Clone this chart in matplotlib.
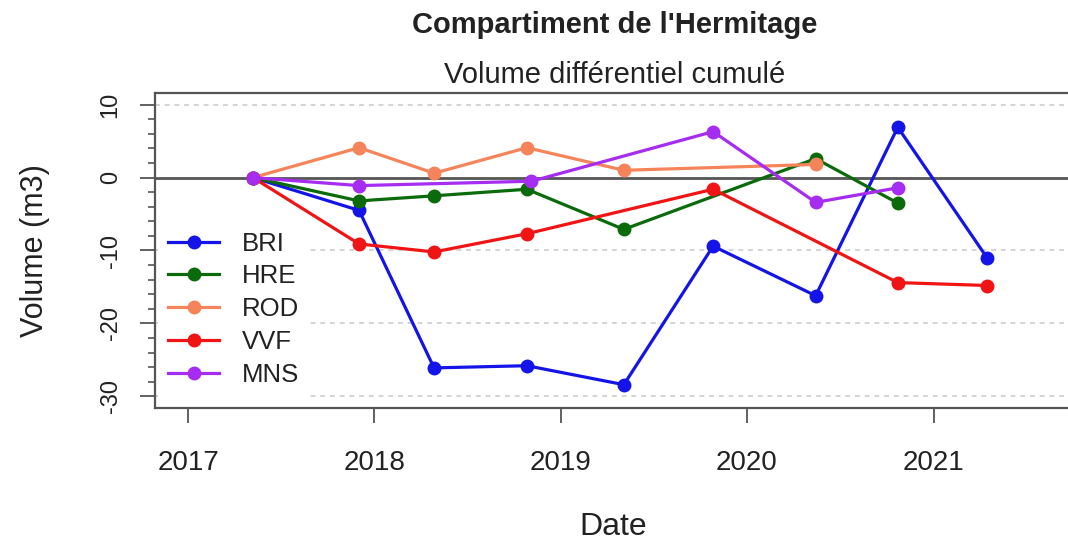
#!/usr/bin/env python3
# coding: utf-8

"""Cumulative differential volume per site, Hermitage compartment"""

import pandas as pd
import matplotlib
matplotlib.use("Agg")
import matplotlib.pyplot as plt
from matplotlib.ticker import MultipleLocator

plt.rcParams["font.family"] = ["Liberation Sans", "DejaVu Sans"]
plt.rcParams["axes.unicode_minus"] = False

# Survey dates and cumulative volumes (m3) for each site
bri_dates = ["2017-05-08", "2017-12-02", "2018-04-28", "2018-10-27", "2019-05-05",
             "2019-10-27", "2020-05-15", "2020-10-23", "2021-04-16"]
bri_vol = [0, -4.5, -26.1, -25.8, -28.4, -9.4, -16.2, 6.9, -11.0]

hre_dates = ["2017-05-08", "2017-12-02", "2018-04-28", "2018-10-27", "2019-05-05",
             "2020-05-15", "2020-10-23"]
hre_vol = [0, -3.2, -2.5, -1.6, -7.1, 2.6, -3.5]

rod_dates = ["2017-05-08", "2017-12-02", "2018-04-28", "2018-10-27", "2019-05-05",
             "2020-05-15"]
rod_vol = [0, 4.1, 0.6, 4.1, 1.0, 1.8]

vvf_dates = ["2017-05-08", "2017-12-02", "2018-04-28", "2018-10-27", "2019-10-27",
             "2020-10-23", "2021-04-16"]
vvf_vol = [0, -9.1, -10.2, -7.7, -1.6, -14.4, -14.8]

mns_dates = ["2017-05-08", "2017-12-02", "2018-11-05", "2019-10-27", "2020-05-15",
             "2020-10-23"]
mns_vol = [0, -1.1, -0.5, 6.3, -3.4, -1.4]

sites = ["BRI", "HRE", "ROD", "VVF", "MNS"]
colors = ["#1414e8", "#0b6b0b", "#f5845a", "#f01414", "#a52cf0"]
series = [(bri_dates, bri_vol), (hre_dates, hre_vol), (rod_dates, rod_vol),
          (vvf_dates, vvf_vol), (mns_dates, mns_vol)]

years = [2017, 2018, 2019, 2020, 2021]
grid_levels = [10, -10, -20, -30]

axis_grey = "#555555"
text_col = "#222222"

fig = plt.figure(figsize=(10.68, 5.5), dpi=100)
ax = fig.add_axes([155 / 1068, 1 - 408 / 550, (1084 - 155) / 1068, 315 / 550])

for y in grid_levels:
    ax.axhline(y, color="#d4d4d4", lw=1.4, ls=(0, (2.5, 2.5)), zorder=1)
ax.axhline(0, color=axis_grey, lw=2, zorder=1)

for name, col, (d, v) in zip(sites, colors, series):
    ax.plot(pd.to_datetime(d), v, "-o", color=col, lw=2.3, ms=9,
            label=name, zorder=3)

ax.set_xlim(pd.Timestamp("2016-10-28"), pd.Timestamp("2021-10-23"))
ax.set_ylim(-31.6, 11.6)

ax.set_xticks(pd.to_datetime([f"{y}-01-01" for y in years]))
ax.set_xticklabels([str(y) for y in years])
ax.set_yticks([-30, -20, -10, 0, 10])
ax.yaxis.set_minor_locator(MultipleLocator(2))

for s in ax.spines.values():
    s.set_color(axis_grey)
    s.set_linewidth(1.6)

ax.tick_params(axis="x", direction="out", length=11, width=1.3, color=axis_grey,
               pad=19, labelsize=20, labelcolor=text_col)
ax.tick_params(axis="y", which="major", direction="out", length=11, width=1.3,
               color=axis_grey, pad=13, labelsize=17, labelcolor=text_col,
               labelrotation=90)
ax.tick_params(axis="y", which="minor", direction="out", length=5, width=1.2,
               color=axis_grey)
plt.setp(ax.get_yticklabels(), va="center")

ax.set_xlabel("Date", fontsize=23, color=text_col, va="center")
ax.xaxis.set_label_coords((613 - 155) / 929, (408 - 527) / 315)
ax.set_ylabel("Volume (m3)", fontsize=22, color=text_col, va="center")
ax.yaxis.set_label_coords((35 - 155) / 929, 0.5)

leg = ax.legend(loc="lower left", bbox_to_anchor=(0, 0.027), fontsize=18.5,
                frameon=True, facecolor="white", edgecolor="none", framealpha=1,
                fancybox=False, borderaxespad=0.1, borderpad=0.4,
                handlelength=2.0, handletextpad=0.9, labelspacing=0.34)
for t in leg.get_texts():
    t.set_color(text_col)

fig.text(615 / 1068, 1 - 25 / 550, "Compartiment de l'Hermitage", ha="center",
         va="center", fontsize=21, weight="bold", color=text_col)
fig.text(615 / 1068, 1 - 75 / 550, "Volume différentiel cumulé", ha="center",
         va="center", fontsize=21, color=text_col)

fig.savefig("out.png", dpi=100)
